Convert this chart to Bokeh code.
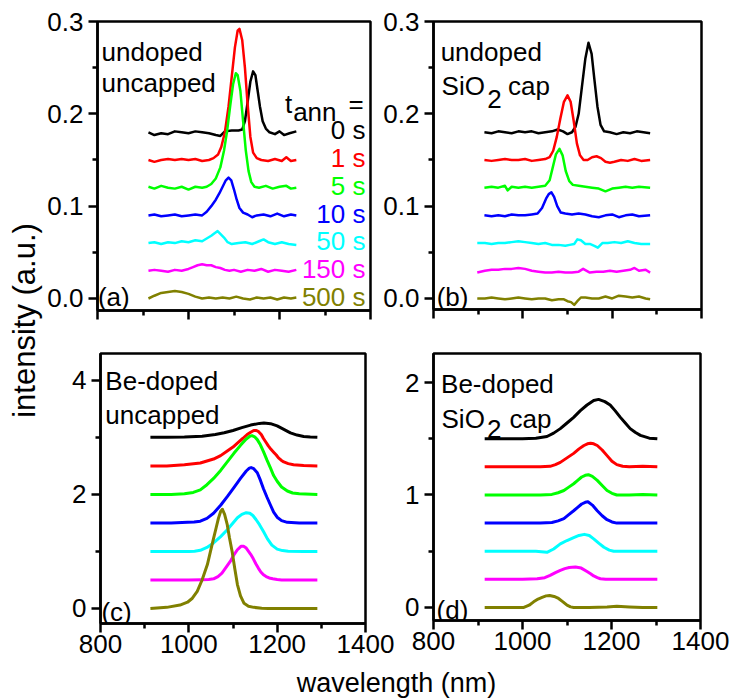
import numpy as np
from bokeh.plotting import figure
from bokeh.layouts import row, column
from bokeh.models import Range1d, FixedTicker, Label
from bokeh.embed import file_html
from bokeh.resources import INLINE

FONT = "Liberation Sans"
COLORS = ["#000000", "#ff0000", "#00ff00", "#0000ff", "#00ffff", "#ff00ff", "#808000"]
TIMES = ["0 s", "1 s", "5 s", "10 s", "50 s", "150 s", "500 s"]

# ---------------- panel (a): undoped, uncapped ----------------
A_OFFSETS = [0.18, 0.15, 0.12, 0.09, 0.06, 0.03, 0.0]
A_WL_0S = [912, 925, 940, 955, 970, 985, 1000, 1015, 1030, 1045, 1060, 1070, 1080, 1095, 1110, 1118, 1124, 1130, 1136, 1142, 1147, 1152, 1157, 1163, 1170, 1178, 1190, 1200, 1210, 1222, 1237]
A_I_0S = [0.0, -0.003, -0.001, -0.002, 0.001, 0.0, -0.001, 0.001, 0.0, -0.001, -0.003, -0.004, 0.001, 0.002, 0.002, 0.003, 0.012, 0.033, 0.055, 0.066, 0.062, 0.045, 0.028, 0.012, 0.004, 0.0, -0.002, 0.001, -0.003, -0.001, 0.001]
A_WL_1S = [912, 925, 940, 955, 970, 985, 1000, 1015, 1030, 1045, 1055, 1065, 1072, 1080, 1088, 1095, 1102, 1108, 1112, 1118, 1124, 1130, 1136, 1142, 1150, 1160, 1175, 1190, 1205, 1215, 1225, 1237]
A_I_1S = [0.0, -0.002, 0.0, 0.001, 0.0, 0.001, 0.0, 0.001, -0.001, 0.0, 0.002, 0.006, 0.014, 0.030, 0.058, 0.090, 0.122, 0.140, 0.142, 0.130, 0.100, 0.060, 0.025, 0.008, 0.002, 0.0, -0.001, 0.001, -0.001, 0.003, -0.001, 0.0]
A_WL_5S = [912, 925, 940, 955, 970, 985, 1000, 1015, 1030, 1040, 1050, 1060, 1070, 1078, 1085, 1092, 1098, 1104, 1108, 1114, 1120, 1126, 1132, 1138, 1145, 1155, 1170, 1185, 1200, 1215, 1225, 1237]
A_I_5S = [0.001, -0.001, 0.002, 0.0, -0.001, 0.001, -0.002, 0.001, 0.0, 0.001, 0.004, 0.010, 0.022, 0.040, 0.062, 0.090, 0.112, 0.124, 0.122, 0.105, 0.072, 0.040, 0.018, 0.006, 0.001, 0.0, 0.002, -0.001, 0.001, 0.002, -0.001, 0.0]
A_WL_10S = [912, 925, 940, 955, 970, 985, 1000, 1015, 1030, 1040, 1050, 1060, 1068, 1075, 1082, 1088, 1094, 1100, 1106, 1112, 1120, 1130, 1140, 1150, 1165, 1180, 1195, 1210, 1225, 1237]
A_I_10S = [0.0, 0.001, -0.001, 0.0, 0.001, -0.001, 0.0, 0.001, 0.0, 0.004, 0.010, 0.017, 0.024, 0.031, 0.038, 0.041, 0.038, 0.028, 0.017, 0.008, 0.003, 0.001, -0.002, 0.0, 0.001, -0.001, 0.002, -0.001, 0.001, 0.0]
A_WL_50S = [912, 925, 940, 955, 970, 985, 1000, 1015, 1030, 1040, 1050, 1058, 1064, 1070, 1078, 1086, 1095, 1110, 1125, 1140, 1155, 1165, 1175, 1190, 1205, 1220, 1237]
A_I_50S = [0.0, 0.001, -0.001, 0.001, 0.0, 0.002, 0.001, 0.003, 0.002, 0.005, 0.008, 0.011, 0.013, 0.010, 0.006, 0.001, -0.001, 0.0, 0.001, -0.001, 0.002, 0.004, 0.001, -0.001, 0.001, -0.001, -0.002]
A_WL_150S = [912, 925, 940, 955, 970, 985, 1000, 1010, 1020, 1030, 1040, 1050, 1060, 1070, 1080, 1090, 1100, 1115, 1130, 1145, 1160, 1175, 1190, 1205, 1220, 1237]
A_I_150S = [0.0, 0.001, 0.0, -0.001, 0.001, 0.0, 0.002, 0.004, 0.006, 0.007, 0.006, 0.006, 0.004, 0.003, 0.001, 0.0, 0.001, -0.001, 0.001, 0.0, 0.002, -0.001, 0.001, 0.0, -0.001, 0.001]
A_WL_500S = [912, 925, 940, 955, 970, 985, 1000, 1015, 1030, 1045, 1060, 1075, 1090, 1105, 1120, 1135, 1150, 1165, 1180, 1195, 1210, 1225, 1237]
A_I_500S = [0.0, 0.003, 0.006, 0.007, 0.008, 0.007, 0.005, 0.002, 0.0, 0.001, 0.0, 0.001, 0.0, 0.002, 0.0, -0.001, 0.001, 0.0, 0.001, -0.001, 0.001, 0.0, 0.001]

# ---------------- panel (b): undoped, SiO2 cap ----------------
B_OFFSETS = [0.18, 0.15, 0.12, 0.09, 0.06, 0.03, 0.0]
B_WL_0S = [914, 930, 945, 960, 975, 990, 1005, 1020, 1035, 1050, 1065, 1078, 1090, 1100, 1110, 1118, 1125, 1132, 1140, 1147, 1154, 1160, 1167, 1174, 1182, 1195, 1210, 1225, 1240, 1255, 1270, 1285]
B_I_0S = [0.0, -0.001, 0.001, 0.0, -0.001, 0.001, 0.0, 0.001, -0.001, 0.0, 0.001, 0.003, 0.001, -0.002, 0.0, 0.006, 0.020, 0.048, 0.080, 0.097, 0.085, 0.058, 0.028, 0.008, 0.001, 0.0, -0.002, 0.0, -0.001, 0.001, 0.0, -0.001]
B_WL_1S = [914, 930, 945, 960, 975, 990, 1005, 1020, 1035, 1050, 1060, 1068, 1076, 1084, 1092, 1100, 1107, 1114, 1121, 1128, 1136, 1145, 1155, 1165, 1175, 1185, 1195, 1205, 1220, 1235, 1250, 1265, 1285]
B_I_1S = [0.0, -0.001, 0.0, 0.001, 0.0, 0.0, 0.001, -0.001, 0.0, 0.001, 0.003, 0.010, 0.025, 0.045, 0.063, 0.070, 0.063, 0.042, 0.018, 0.005, 0.0, 0.0, 0.003, 0.004, 0.002, -0.002, -0.003, -0.002, 0.0, -0.001, 0.001, -0.001, 0.0]
B_WL_5S = [914, 930, 945, 960, 966, 975, 990, 1005, 1020, 1035, 1050, 1060, 1067, 1074, 1082, 1089, 1096, 1104, 1112, 1125, 1140, 1155, 1170, 1185, 1200, 1215, 1230, 1245, 1260, 1285]
B_I_5S = [0.0, 0.001, 0.0, 0.002, -0.003, 0.001, 0.0, 0.001, 0.0, 0.001, 0.002, 0.008, 0.022, 0.036, 0.042, 0.035, 0.018, 0.007, 0.003, 0.002, 0.001, 0.0, -0.001, -0.004, -0.001, 0.0, 0.001, 0.0, 0.001, 0.0]
B_WL_10S = [914, 930, 945, 960, 975, 990, 1005, 1020, 1033, 1043, 1052, 1058, 1064, 1070, 1077, 1085, 1095, 1110, 1125, 1140, 1155, 1170, 1185, 1200, 1215, 1230, 1245, 1260, 1285]
B_I_10S = [0.0, -0.001, 0.0, -0.001, 0.001, 0.0, 0.0, 0.001, 0.002, 0.008, 0.018, 0.023, 0.025, 0.020, 0.010, 0.003, 0.002, 0.001, 0.002, 0.001, -0.001, -0.002, 0.0, 0.001, -0.002, 0.0, 0.001, -0.001, 0.0]
B_WL_50S = [898, 915, 930, 945, 960, 975, 990, 1005, 1020, 1035, 1050, 1065, 1080, 1095, 1105, 1115, 1122, 1130, 1140, 1150, 1160, 1168, 1178, 1190, 1205, 1220, 1235, 1250, 1265, 1285]
B_I_50S = [0.0, 0.0, -0.001, 0.0, 0.0, 0.001, 0.002, 0.001, 0.0, -0.001, 0.0, -0.002, -0.002, -0.003, -0.002, -0.001, 0.004, 0.003, -0.001, -0.001, -0.003, -0.005, 0.0, 0.0, 0.001, 0.0, 0.002, 0.0, -0.001, -0.001]
B_WL_150S = [898, 915, 930, 945, 960, 975, 990, 1005, 1020, 1035, 1050, 1065, 1080, 1095, 1110, 1125, 1135, 1150, 1165, 1180, 1195, 1210, 1225, 1240, 1250, 1260, 1275, 1285]
B_I_150S = [-0.002, 0.0, 0.001, 0.001, 0.002, 0.002, 0.003, 0.002, 0.0, -0.001, -0.002, -0.002, -0.001, -0.002, -0.002, -0.001, 0.002, -0.002, -0.001, -0.001, 0.0, -0.001, 0.0, 0.001, 0.003, 0.0, 0.001, -0.002]
B_WL_500S = [898, 915, 930, 945, 960, 975, 990, 1005, 1020, 1035, 1050, 1065, 1080, 1092, 1100, 1108, 1115, 1122, 1130, 1140, 1155, 1170, 1185, 1200, 1215, 1230, 1245, 1260, 1275, 1285]
B_I_500S = [0.0, 0.0, 0.001, 0.0, -0.001, 0.0, 0.001, 0.0, -0.001, 0.0, 0.0, -0.002, -0.001, -0.001, -0.003, -0.004, -0.007, -0.003, 0.001, 0.001, 0.0, 0.0, 0.002, 0.0, 0.003, 0.002, 0.001, 0.002, 0.0, -0.001]

# ---------------- panel (c): Be-doped, uncapped ----------------
C_OFFSETS = [3.0, 2.5, 2.0, 1.5, 1.0, 0.5, 0.0]
C_WL_0S = [913, 950, 990, 1030, 1060, 1080, 1100, 1120, 1140, 1160, 1170, 1185, 1200, 1215, 1230, 1245, 1260, 1275, 1291]
C_I_0S = [0.0, 0.0, 0.005, 0.02, 0.05, 0.08, 0.12, 0.17, 0.215, 0.245, 0.25, 0.24, 0.20, 0.14, 0.08, 0.04, 0.015, 0.005, 0.0]
C_WL_1S = [913, 950, 990, 1026, 1056, 1072, 1087, 1100, 1110, 1122, 1132, 1140, 1147, 1153, 1158, 1164, 1169, 1175, 1180, 1186, 1192, 1198, 1203, 1209, 1215, 1225, 1237, 1260, 1291]
C_I_1S = [0.0, 0.0, 0.02, 0.05, 0.12, 0.18, 0.26, 0.33, 0.40, 0.48, 0.55, 0.59, 0.62, 0.62, 0.60, 0.55, 0.48, 0.41, 0.35, 0.29, 0.24, 0.19, 0.14, 0.10, 0.07, 0.04, 0.02, 0.005, 0.0]
C_WL_5S = [913, 960, 990, 1010, 1026, 1041, 1056, 1072, 1087, 1102, 1117, 1130, 1138, 1143, 1149, 1155, 1162, 1169, 1177, 1185, 1192, 1200, 1210, 1223, 1235, 1250, 1291]
C_I_5S = [0.0, 0.0, 0.01, 0.035, 0.08, 0.17, 0.28, 0.42, 0.57, 0.72, 0.86, 0.97, 1.02, 1.03, 1.01, 0.96, 0.87, 0.75, 0.60, 0.46, 0.33, 0.23, 0.13, 0.06, 0.025, 0.01, 0.0]
C_WL_10S = [913, 960, 997, 1012, 1026, 1041, 1056, 1072, 1087, 1102, 1117, 1130, 1137, 1141, 1147, 1155, 1162, 1169, 1177, 1185, 1192, 1200, 1210, 1223, 1250, 1291]
C_I_10S = [0.0, 0.0, 0.01, 0.015, 0.03, 0.08, 0.17, 0.31, 0.46, 0.62, 0.78, 0.91, 0.96, 0.97, 0.95, 0.88, 0.75, 0.60, 0.45, 0.31, 0.19, 0.10, 0.04, 0.01, 0.0, 0.0]
C_WL_50S = [913, 960, 1000, 1013, 1026, 1041, 1056, 1072, 1087, 1100, 1110, 1120, 1130, 1138, 1145, 1152, 1160, 1169, 1178, 1188, 1200, 1212, 1225, 1260, 1291]
C_I_50S = [0.0, 0.0, 0.0, 0.005, 0.02, 0.07, 0.15, 0.26, 0.38, 0.50, 0.59, 0.65, 0.68, 0.67, 0.63, 0.56, 0.47, 0.35, 0.22, 0.11, 0.04, 0.015, 0.005, 0.0, 0.0]
C_WL_150S = [913, 960, 1000, 1030, 1045, 1056, 1066, 1075, 1087, 1095, 1102, 1110, 1118, 1124, 1130, 1140, 1146, 1152, 1158, 1163, 1169, 1175, 1182, 1190, 1200, 1210, 1250, 1291]
C_I_150S = [0.0, 0.0, 0.0, 0.005, 0.01, 0.02, 0.06, 0.12, 0.25, 0.34, 0.44, 0.53, 0.59, 0.59, 0.56, 0.45, 0.37, 0.28, 0.20, 0.14, 0.09, 0.06, 0.035, 0.02, 0.008, 0.0, 0.0, 0.0]
C_WL_500S = [913, 950, 980, 997, 1008, 1019, 1030, 1042, 1049, 1056, 1062, 1067, 1072, 1076, 1081, 1087, 1092, 1098, 1104, 1110, 1117, 1125, 1135, 1147, 1165, 1180, 1230, 1291]
C_I_500S = [0.0, 0.02, 0.06, 0.11, 0.18, 0.30, 0.50, 0.77, 1.00, 1.23, 1.42, 1.58, 1.70, 1.74, 1.65, 1.47, 1.24, 1.0, 0.70, 0.42, 0.22, 0.09, 0.04, 0.02, 0.005, 0.0, 0.0, 0.0]

# ---------------- panel (d): Be-doped, SiO2 cap ----------------
D_OFFSETS = [1.5, 1.25, 1.0, 0.75, 0.5, 0.25, 0.0]
D_WL_0S = [915, 960, 1000, 1030, 1055, 1070, 1085, 1100, 1115, 1130, 1145, 1160, 1171, 1185, 1197, 1208, 1220, 1231, 1242, 1254, 1265, 1285, 1303]
D_I_0S = [0.0, 0.0, 0.0, 0.005, 0.02, 0.05, 0.09, 0.14, 0.19, 0.25, 0.30, 0.34, 0.35, 0.33, 0.30, 0.25, 0.19, 0.14, 0.09, 0.055, 0.03, 0.005, 0.0]
D_WL_1S = [915, 960, 1000, 1040, 1062, 1074, 1085, 1100, 1115, 1127, 1138, 1146, 1153, 1160, 1168, 1179, 1190, 1201, 1212, 1225, 1240, 1270, 1303]
D_I_1S = [0.0, 0.0, 0.0, 0.0, 0.005, 0.02, 0.04, 0.08, 0.12, 0.16, 0.19, 0.205, 0.21, 0.205, 0.19, 0.15, 0.10, 0.05, 0.02, 0.005, 0.0, 0.005, 0.0]
D_WL_5S = [915, 960, 1000, 1040, 1066, 1080, 1093, 1104, 1115, 1124, 1133, 1141, 1148, 1157, 1168, 1179, 1190, 1201, 1212, 1240, 1270, 1303]
D_I_5S = [0.0, 0.0, 0.0, 0.0, 0.005, 0.02, 0.04, 0.07, 0.10, 0.13, 0.16, 0.175, 0.18, 0.165, 0.13, 0.085, 0.04, 0.015, 0.0, 0.0, 0.005, 0.0]
D_WL_10S = [915, 960, 1000, 1040, 1066, 1080, 1093, 1104, 1115, 1124, 1133, 1141, 1147, 1157, 1168, 1179, 1190, 1201, 1212, 1240, 1270, 1303]
D_I_10S = [0.0, 0.0, 0.0, 0.0, 0.005, 0.02, 0.04, 0.075, 0.11, 0.14, 0.17, 0.185, 0.19, 0.16, 0.11, 0.065, 0.03, 0.01, 0.0, 0.0, 0.0, 0.0]
D_WL_50S = [915, 960, 1000, 1030, 1055, 1070, 1085, 1100, 1115, 1127, 1139, 1150, 1160, 1172, 1183, 1195, 1205, 1240, 1270, 1303]
D_I_50S = [0.0, 0.0, 0.0, 0.0, -0.01, 0.02, 0.065, 0.095, 0.12, 0.14, 0.15, 0.14, 0.11, 0.07, 0.035, 0.01, 0.0, 0.0, 0.0, 0.0]
D_WL_150S = [915, 960, 1000, 1033, 1050, 1062, 1074, 1085, 1095, 1105, 1119, 1132, 1145, 1153, 1160, 1168, 1175, 1187, 1200, 1240, 1270, 1303]
D_I_150S = [0.0, 0.0, 0.0, 0.005, 0.015, 0.035, 0.06, 0.08, 0.095, 0.105, 0.11, 0.10, 0.07, 0.05, 0.03, 0.015, 0.005, 0.0, 0.0, 0.0, 0.0, 0.0]
D_WL_500S = [915, 960, 1003, 1015, 1025, 1035, 1044, 1053, 1061, 1071, 1081, 1091, 1100, 1108, 1115, 1150, 1190, 1212, 1240, 1270, 1303]
D_I_500S = [0.0, 0.0, 0.0, 0.02, 0.05, 0.075, 0.09, 0.103, 0.107, 0.098, 0.08, 0.05, 0.02, 0.005, 0.0, 0.0, 0.005, 0.01, 0.005, 0.0, 0.0]

X_MAJOR = [800, 1000, 1200, 1400]
X_MINOR = [900, 1100, 1300]


def make_panel(yr, ymajor, yminor, ylabels, borders, frame, show_xlabels):
    left, right, top, bottom = borders
    fw, fh = frame
    p = figure(width=left + fw + right, height=top + fh + bottom,
               x_range=Range1d(800, 1400), y_range=Range1d(*yr),
               output_backend="svg", toolbar_location=None,
               min_border_left=left, min_border_right=right,
               min_border_top=top, min_border_bottom=bottom)
    p.frame_width = fw
    p.frame_height = fh
    p.xgrid.visible = False
    p.ygrid.visible = False
    p.outline_line_color = "black"
    p.outline_line_width = 2.5
    p.outline_line_alpha = 1.0
    p.background_fill_color = "white"
    p.border_fill_color = "white"
    for ax in (p.xaxis[0], p.yaxis[0]):
        ax.axis_line_width = 2.5
        ax.major_tick_line_width = 2.5
        ax.minor_tick_line_width = 2.5
        ax.major_tick_in = 0
        ax.major_tick_out = 9
        ax.minor_tick_in = 0
        ax.minor_tick_out = 5
        ax.major_label_text_font = FONT
        ax.major_label_text_font_size = "26px"
        ax.major_label_text_color = "black"
        ax.major_label_standoff = 5
    p.xaxis.ticker = FixedTicker(ticks=X_MAJOR, minor_ticks=X_MINOR)
    p.yaxis.ticker = FixedTicker(ticks=ymajor, minor_ticks=yminor)
    p.yaxis.major_label_overrides = {t: s for t, s in zip(ymajor, ylabels)}
    if show_xlabels:
        p.xaxis.major_label_standoff = 2
    else:
        # the upper panels show tick marks only, no wavelength numbers
        p.xaxis.major_label_text_color = None
        p.xaxis.major_label_text_font_size = "0px"
        p.xaxis.major_label_standoff = 0
    return p


def add_curves(p, wls, ints, offsets, lw):
    for wl, it, off, col in zip(wls, ints, offsets, COLORS):
        y = [v + off for v in it]
        p.line(wl, y, line_color=col, line_width=lw, line_join="round")


def lab(p, x, y, text, color="black", align="left", baseline="alphabetic", size="26px"):
    p.add_layout(Label(x=x, y=y, text=text, text_color=color, text_font=FONT,
                       text_font_size=size, text_align=align, text_baseline=baseline))


# panel (a)
pa = make_panel((-0.013, 0.3), [0.0, 0.1, 0.2, 0.3], [0.05, 0.15, 0.25],
                ["0.0", "0.1", "0.2", "0.3"], (54, 8, 21, 20), (273, 289), False)
add_curves(pa, [A_WL_0S, A_WL_1S, A_WL_5S, A_WL_10S, A_WL_50S, A_WL_150S, A_WL_500S],
           [A_I_0S, A_I_1S, A_I_5S, A_I_10S, A_I_50S, A_I_150S, A_I_500S], A_OFFSETS, 2.5)
lab(pa, 809, 0.2665, "undoped")
lab(pa, 809, 0.233, "uncapped")
lab(pa, 801, 0.0016, "(a)")
lab(pa, 1212, 0.211, "t")
lab(pa, 1230, 0.2025, "ann")
lab(pa, 1385, 0.211, "=", align="right")
for off, txt, col in zip(A_OFFSETS, TIMES, COLORS):
    lab(pa, 1389, off + 0.002, txt, color=col, align="right", baseline="middle")

# panel (b)
pb = make_panel((-0.012, 0.3), [0.0, 0.1, 0.2, 0.3], [0.05, 0.15, 0.25],
                ["0.0", "0.1", "0.2", "0.3"], (55, 32, 20, 22), (268, 288), False)
add_curves(pb, [B_WL_0S, B_WL_1S, B_WL_5S, B_WL_10S, B_WL_50S, B_WL_150S, B_WL_500S],
           [B_I_0S, B_I_1S, B_I_5S, B_I_10S, B_I_50S, B_I_150S, B_I_500S], B_OFFSETS, 2.5)
lab(pb, 816, 0.2665, "undoped")
lab(pb, 818, 0.2305, "SiO")
lab(pb, 920.5, 0.216, "2")
lab(pb, 967, 0.2305, "cap")
lab(pb, 807, 0.002, "(b)")

# panel (c)
pc = make_panel((-0.263, 4.47), [0, 2, 4], [1, 3], ["0", "2", "4"],
                (57, 30, 22, 43), (265, 270), True)
add_curves(pc, [C_WL_0S, C_WL_1S, C_WL_5S, C_WL_10S, C_WL_50S, C_WL_150S, C_WL_500S],
           [C_I_0S, C_I_1S, C_I_5S, C_I_10S, C_I_50S, C_I_150S, C_I_500S], C_OFFSETS, 3)
lab(pc, 811, 3.98, "Be-doped")
lab(pc, 811, 3.40, "uncapped")
lab(pc, 802, -0.07, "(c)")

# panel (d)
pd_ = make_panel((-0.116, 2.258), [0, 1, 2], [0.5, 1.5], ["0", "1", "2"],
                 (38, 33, 23, 45), (267, 267), True)
add_curves(pd_, [D_WL_0S, D_WL_1S, D_WL_5S, D_WL_10S, D_WL_50S, D_WL_150S, D_WL_500S],
           [D_I_0S, D_I_1S, D_I_5S, D_I_10S, D_I_50S, D_I_150S, D_I_500S], D_OFFSETS, 3)
lab(pd_, 817, 1.99, "Be-doped")
lab(pd_, 818, 1.68, "SiO")
lab(pd_, 920.5, 1.59, "2")
lab(pd_, 971, 1.68, "cap")
lab(pd_, 807, -0.02, "(d)")


def blank(w, h):
    f = figure(width=w, height=h, x_range=Range1d(0, w), y_range=Range1d(0, h),
               output_backend="svg", toolbar_location=None,
               x_axis_type=None, y_axis_type=None,
               min_border=0, min_border_left=0, min_border_right=0,
               min_border_top=0, min_border_bottom=0)
    f.frame_width = w
    f.frame_height = h
    f.xgrid.visible = False
    f.ygrid.visible = False
    f.outline_line_color = None
    f.background_fill_color = None
    f.border_fill_color = None
    return f


ylab = blank(43, 699)
ylab.add_layout(Label(x=24, y=699 - 320, text="intensity (a.u.)", angle=np.pi / 2,
                      text_font=FONT, text_font_size="31px", text_align="center",
                      text_baseline="middle", text_color="black"))
xlab = blank(690, 34)
xlab.add_layout(Label(x=353, y=17, text="wavelength (nm)",
                      text_font=FONT, text_font_size="27px", text_align="center",
                      text_baseline="middle", text_color="black"))

layout = row(ylab, column(row(pa, pb), row(pc, pd_), xlab))

with open("out.html", "w") as fh:
    fh.write(file_html(layout, INLINE))
